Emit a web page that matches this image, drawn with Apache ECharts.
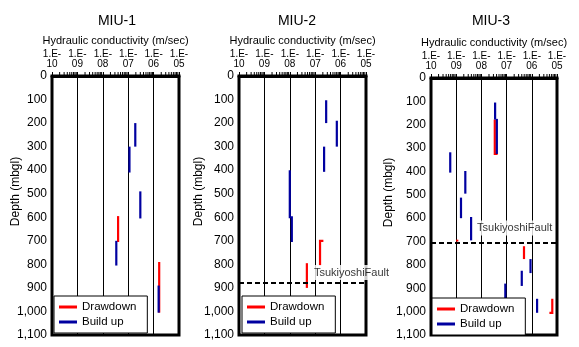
<!DOCTYPE html>
<html><head><meta charset="utf-8">
<script src="https://cdn.jsdelivr.net/npm/echarts@6/dist/echarts.min.js"></script>
<style>html,body{margin:0;padding:0;background:#fff}#c{width:579px;height:347px}</style>
</head><body><div id="c"></div>
<script>
// ---------- data ----------
const panelTitles = ['MIU-1', 'MIU-2', 'MIU-3'];
const xTickLabels = ['1.E-\n10', '1.E-\n09', '1.E-\n08', '1.E-\n07', '1.E-\n06', '1.E-\n05'];
const xMin = 1e-10, xMax = 1e-5;
const yMin = 0, yMax = 1100, yInterval = 100;
const minorDecades = [1e-10, 1e-9, 1e-8, 1e-7, 1e-6];
const minorMultipliers = [2, 3, 4, 5, 6, 7, 8, 9];

// segments: list of [conductivity (m/s), depth (mbgl)] points
const miu1Drawdown = [
  [[4.0e-8, 595], [4.0e-8, 705]],
  [[1.66e-6, 790], [1.66e-6, 1005]]
];
const miu1Buildup = [
  [[1.9e-7, 200], [1.9e-7, 300]],
  [[1.12e-7, 300], [1.12e-7, 410]],
  [[3.0e-7, 490], [3.0e-7, 605]],
  [[3.4e-8, 700], [3.4e-8, 805]],
  [[1.58e-6, 890], [1.58e-6, 1005]]
];
const miu2Drawdown = [
  [[2.1e-7, 700], [1.55e-7, 700], [1.55e-7, 805]],
  [[4.7e-8, 795], [4.7e-8, 900]]
];
const miu2Buildup = [
  [[2.7e-7, 103], [2.7e-7, 200]],
  [[7.1e-7, 190], [7.1e-7, 300]],
  [[2.24e-7, 300], [2.24e-7, 407]],
  [[1.0e-8, 400], [1.0e-8, 600], [1.2e-8, 600], [1.2e-8, 705]]
];
const miu3Drawdown = [
  [[3.4e-8, 178], [3.4e-8, 325], [4.4e-8, 325]],
  [[1.1e-9, 692], [1.1e-9, 700]],
  [[4.9e-7, 720], [4.9e-7, 775]],
  [[5.0e-6, 1005], [6.5e-6, 1005], [6.5e-6, 945]]
];
const miu3Buildup = [
  [[3.5e-8, 105], [3.5e-8, 178]],
  [[4.1e-8, 175], [4.1e-8, 325]],
  [[5.8e-10, 318], [5.8e-10, 405]],
  [[2.3e-9, 398], [2.3e-9, 495]],
  [[1.55e-9, 512], [1.55e-9, 600]],
  [[3.9e-9, 595], [3.9e-9, 695]],
  [[8.9e-7, 775], [8.9e-7, 835]],
  [[4.0e-7, 825], [4.0e-7, 890]],
  [[8.9e-8, 880], [8.9e-8, 960]],
  [[1.62e-6, 945], [1.62e-6, 1005]]
];
const faultName = 'TsukiyoshiFault';
const faultDepths = [null, 878, 705];
const faultLabelK = [null, 7.4e-8, 5.6e-9];
const faultLabelDepth = [null, 835, 642];

// ---------- layout ----------
const drawdownSets = [miu1Drawdown, miu2Drawdown, miu3Drawdown];
const buildupSets = [miu1Buildup, miu2Buildup, miu3Buildup];
const grids = [
  { left: 52, top: 76, width: 127, height: 259 },
  { left: 239, top: 76, width: 127, height: 259 },
  { left: 431, top: 78, width: 126, height: 257 }
];
const titleCenters = [112, 292, 486];
const yNameGaps = [30, 34, 36];
const legendPos = [{ left: 54, top: 296 }, { left: 242, top: 296 }, { left: 432, top: 298 }];
const RED = '#ff0000', BLUE = '#0000a0';
const FONT = 'Liberation Sans';

const minorTickValues = [];
minorDecades.forEach(d => minorMultipliers.forEach(m => minorTickValues.push([m * d, 0])));

const option = {
  animation: false,
  backgroundColor: '#fff',
  textStyle: { fontFamily: FONT, color: '#000' },
  title: grids.map((g, i) => ({
    text: panelTitles[i],
    left: titleCenters[i], top: 9, textAlign: 'center',
    textStyle: { fontFamily: FONT, fontSize: 14, fontWeight: 'normal', color: '#000' }
  })),
  grid: grids.map(g => Object.assign({ show: true, borderColor: '#000', borderWidth: 3, backgroundColor: 'transparent' }, g)),
  xAxis: grids.map((g, i) => ({
    type: 'log', logBase: 10, gridIndex: i, position: 'top', min: xMin, max: xMax,
    name: 'Hydraulic conductivity (m/sec)', nameLocation: 'middle', nameGap: 30, nameMoveOverlap: false,
    nameTextStyle: { fontFamily: FONT, fontSize: 11, color: '#000' },
    axisLine: { show: true, lineStyle: { color: '#000', width: 3 } },
    axisTick: { show: true, length: 4, lineStyle: { color: '#000', width: 1 } },
    splitLine: { show: true, lineStyle: { color: '#000', width: 1 } },
    axisLabel: {
      margin: 7, fontFamily: FONT, fontSize: 10, lineHeight: 10, color: '#000',
      formatter: v => xTickLabels[Math.round(Math.log10(v)) + 10]
    }
  })),
  yAxis: grids.map((g, i) => ({
    type: 'value', gridIndex: i, inverse: true, min: yMin, max: yMax, interval: yInterval,
    name: 'Depth (mbgl)', nameLocation: 'middle', nameGap: yNameGaps[i], nameRotate: 90, nameMoveOverlap: false,
    nameTextStyle: { fontFamily: FONT, fontSize: 12, color: '#000', padding: [0, 0, 0, 28] },
    axisLine: { show: false }, axisTick: { show: false }, splitLine: { show: false },
    axisLabel: { margin: 5, fontFamily: FONT, fontSize: 12, color: '#000',
      formatter: v => v.toLocaleString('en-US') }
  })),
  legend: grids.map((g, i) => ({
    data: ['Drawdown', 'Build up'], orient: 'vertical',
    left: legendPos[i].left, top: legendPos[i].top,
    backgroundColor: '#fff', borderColor: '#000', borderWidth: 1,
    padding: [4, 11, 4, 5], itemGap: 1, itemWidth: 18, itemHeight: 3, icon: 'rect',
    textStyle: { fontFamily: FONT, fontSize: 11.5, color: '#000', lineHeight: 14 },
    selectedMode: false, z: 10
  })),
  series: []
};

grids.forEach((g, i) => {
  drawdownSets[i].forEach(seg => option.series.push({
    type: 'line', name: 'Drawdown', xAxisIndex: i, yAxisIndex: i, data: seg,
    symbol: 'none', showSymbol: false, z: 3,
    lineStyle: { color: RED, width: 2.2, join: 'miter', cap: 'butt' }, itemStyle: { color: RED }
  }));
  buildupSets[i].forEach(seg => option.series.push({
    type: 'line', name: 'Build up', xAxisIndex: i, yAxisIndex: i, data: seg,
    symbol: 'none', showSymbol: false, z: 4,
    lineStyle: { color: BLUE, width: 2.2, join: 'miter', cap: 'butt' }, itemStyle: { color: BLUE }
  }));
  // minor log ticks on top axis
  option.series.push({
    type: 'custom', xAxisIndex: i, yAxisIndex: i, data: minorTickValues, silent: true, z: 5,
    renderItem: (params, api) => {
      const p = api.coord([api.value(0), api.value(1)]);
      return { type: 'line', shape: { x1: p[0], y1: p[1] - 1, x2: p[0], y2: p[1] - 4 },
        style: { stroke: '#000', lineWidth: 1 } };
    }
  });
  if (faultDepths[i] !== null) {
    option.series.push({
      type: 'scatter', xAxisIndex: i, yAxisIndex: i, symbolSize: 0, silent: true, z: 6,
      data: [[faultLabelK[i], faultLabelDepth[i]]],
      label: { show: true, position: 'right', distance: 0, formatter: faultName,
        backgroundColor: '#fff', padding: [2, 2, 2, 2], fontFamily: FONT, fontSize: 11, color: '#000' },
      markLine: { silent: true, symbol: 'none', label: { show: false },
        lineStyle: { color: '#000', type: [5, 3], width: 2.2 },
        data: [{ yAxis: faultDepths[i] }] }
    });
  }
});

const chart = echarts.init(document.getElementById('c'), null, { renderer: 'canvas' });
chart.setOption(option);
</script></body></html>
